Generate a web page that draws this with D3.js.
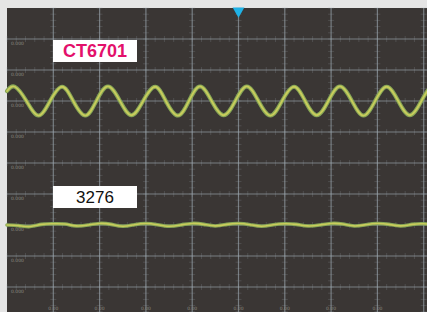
<!DOCTYPE html>
<html><head><meta charset="utf-8">
<script src="https://cdn.jsdelivr.net/npm/d3@7"></script>
<style>
html,body{margin:0;padding:0;background:#e5e5e5;}
svg{display:block;}
</style></head>
<body>
<script>
// ---- data (time and amplitude in screen divisions) ----
const xDivs = [0,1,2,3,4,5,6,7,8,9,10];
const yDivs = [0,1,2,3,4,5,6,7,8,9,10];
const ch1Label = "CT6701";
const ch2Label = "3276";
const ch1Offset = 3;   // division row of CH1 baseline
const ch2Offset = 7;   // division row of CH2 baseline
// CH1 sine: extrema & crossings
const ch1Time = [0,0.17,0.42,0.68,0.93,1.19,1.43,1.69,1.93,2.18,2.44,2.69,2.94,3.2,3.43,3.69,3.93,4.17,4.42,4.68,4.93,5.18,5.43,5.69,5.94,6.2,6.44,6.69,6.94,7.19,7.45,7.7,7.95,8.2,8.45,8.7,8.95,9.2,9.45];
const ch1Val  = [0.32,0.46,0,-0.47,0,0.46,0,-0.47,0,0.47,0,-0.46,0,0.46,0,-0.47,0,0.47,0,-0.46,0,0.47,0,-0.47,0,0.46,0,-0.46,0,0.47,0,-0.47,0,0.46,0,-0.46,0,0.46,0];
// CH2 near-flat trace with slight ripple
const ch2Time = [0,0.25,0.5,0.75,1.0,1.25,1.5,1.75,2.0,2.25,2.5,2.75,3.0,3.25,3.5,3.75,4.0,4.25,4.5,4.75,5.0,5.25,5.5,5.75,6.0,6.25,6.5,6.75,7.0,7.25,7.5,7.75,8.0,8.25,8.5,8.75,9.0,9.25];
const ch2Val  = [0.0,-0.02,-0.05,0.02,0.04,0.03,-0.03,0.0,0.05,0.02,-0.04,0.01,0.05,0.01,-0.04,0.0,0.05,0.02,-0.03,0.02,0.05,0.01,-0.04,0.01,0.04,0.02,-0.03,0.0,0.05,0.03,-0.03,0.01,0.05,0.02,-0.03,0.02,0.04,0.0];
const yTickLabels = ["","0.000","0.000","0.000","0.000","0.000","0.000","0.000","0.000","0.000",""];
const xTickLabels = ["","0.00","0.00","0.00","0.00","0.00","0.00","0.00","0.00","",""];

// ---- layout ----
const W = 427, H = 312;
const svg = d3.select("body").append("svg").attr("width", W).attr("height", H);
const x = d3.scaleLinear().domain([0,10]).range([7, 470]);
const y = d3.scaleLinear().domain([0,10]).range([8, 318]);

svg.append("rect").attr("width", W).attr("height", H).attr("fill", "#e5e5e5");
svg.append("rect").attr("x", x(0)).attr("y", y(0)).attr("width", x(10)-x(0)).attr("height", y(10)-y(0)).attr("fill", "#3a3634");

const g = svg.append("g");
const gridColor = "#9aa6ad";
// major gridlines
g.selectAll(".vg").data(xDivs.slice(1)).join("line")
  .attr("x1", d => x(d)).attr("x2", d => x(d)).attr("y1", y(0)).attr("y2", y(10))
  .attr("stroke", gridColor).attr("stroke-opacity", 0.65).attr("stroke-width", 1.2);
g.selectAll(".hg").data(yDivs.slice(1)).join("line")
  .attr("y1", d => y(d)).attr("y2", d => y(d)).attr("x1", x(0)).attr("x2", x(10))
  .attr("stroke", gridColor).attr("stroke-opacity", 0.65).attr("stroke-width", 1.2);
// minor ticks along gridlines
const minorX = d3.range(0, 10, 0.2);
const minorY = d3.range(0, 10, 0.2);
yDivs.slice(1).forEach(r => {
  g.append("g").selectAll("line").data(minorX).join("line")
    .attr("x1", d => x(d)).attr("x2", d => x(d)).attr("y1", y(r)-3).attr("y2", y(r)+3)
    .attr("stroke", gridColor).attr("stroke-opacity", 0.22);
});
xDivs.slice(1).forEach(c => {
  g.append("g").selectAll("line").data(minorY).join("line")
    .attr("y1", d => y(d)).attr("y2", d => y(d)).attr("x1", x(c)-3).attr("x2", x(c)+3)
    .attr("stroke", gridColor).attr("stroke-opacity", 0.22);
});
// faint tick labels
g.selectAll(".yl").data(yDivs).join("text")
  .attr("x", 11).attr("y", d => y(d) + 6).text((d,i) => yTickLabels[i])
  .attr("font-family", "DejaVu Sans").attr("font-size", 4.5).attr("fill", "#8c8a80");
g.selectAll(".xl").data(xDivs).join("text")
  .attr("x", d => x(d)).attr("y", 310).attr("text-anchor", "middle").text((d,i) => xTickLabels[i])
  .attr("font-family", "DejaVu Sans").attr("font-size", 4.5).attr("fill", "#8c8a80");

// traces
function drawTrace(times, vals, off, w) {
  const pts = times.map((t,i) => [t, vals[i]]);
  const line = d3.line().x(d => x(d[0])).y(d => y(off - d[1])).curve(d3.curveNatural);
  svg.append("path").datum(pts).attr("d", line).attr("fill", "none")
    .attr("stroke", "#86a656").attr("stroke-width", w).attr("stroke-linecap", "round");
  svg.append("path").datum(pts).attr("d", line).attr("fill", "none")
    .attr("stroke", "#c9cc5c").attr("stroke-width", w * 0.45).attr("stroke-linecap", "round");
}
drawTrace(ch1Time, ch1Val, ch1Offset, 4);
drawTrace(ch2Time, ch2Val, ch2Offset, 3.6);

// trigger marker
svg.append("path").attr("d", d3.symbol(d3.symbolTriangle, 60)())
  .attr("transform", `translate(${x(5)},${y(0)+3}) rotate(180)`).attr("fill", "#1fb2e6");

// labels
function label(txt, cy, color, weight, size) {
  svg.append("rect").attr("x", 53).attr("y", cy - 11).attr("width", 84).attr("height", 22).attr("fill", "#ffffff");
  svg.append("text").attr("x", 95).attr("y", cy + 6).attr("text-anchor", "middle").text(txt)
    .attr("font-family", "Liberation Sans, Arial, sans-serif").attr("font-size", size)
    .attr("font-weight", weight).attr("fill", color);
}
label(ch1Label, 51, "#e3106b", "bold", 18);
label(ch2Label, 197, "#111111", "normal", 17);
</script>
</body></html>
